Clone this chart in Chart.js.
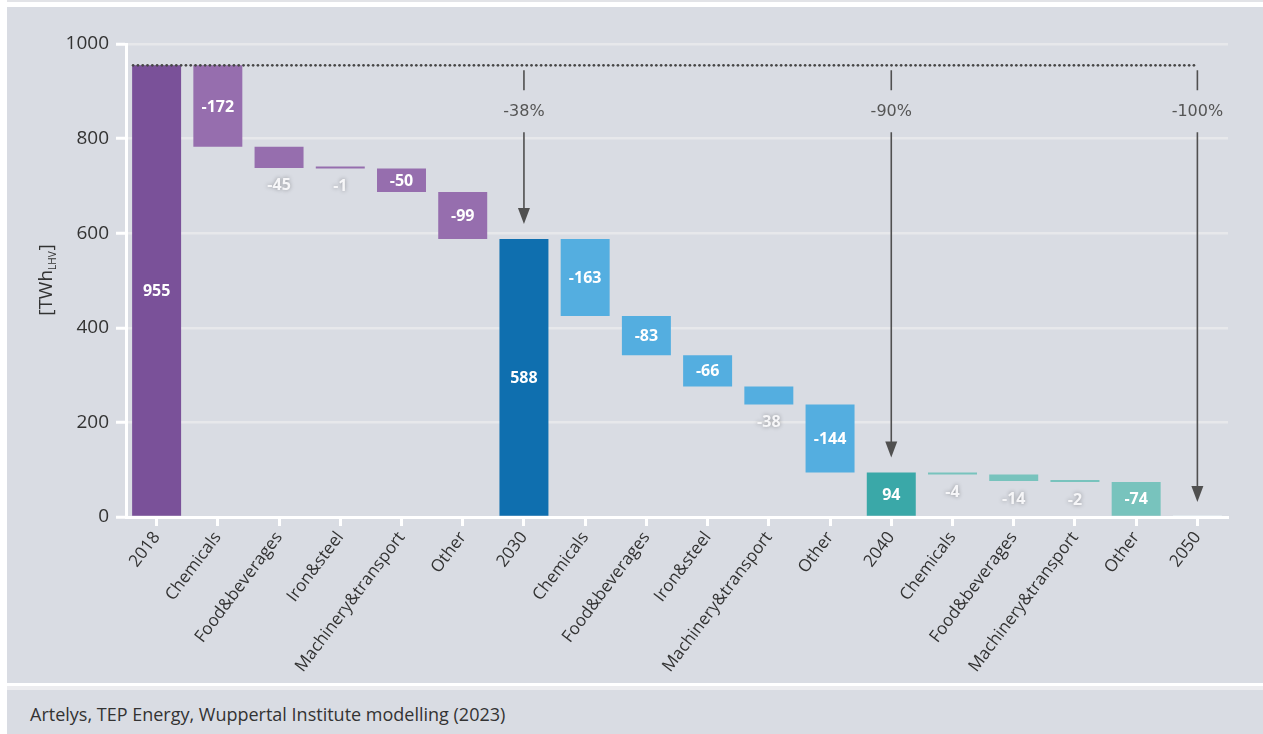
<!DOCTYPE html>
<html>
<head>
<meta charset="utf-8">
<title>Industry energy demand waterfall</title>
<script src="https://cdn.jsdelivr.net/npm/chart.js"></script>
<style>
  html, body { margin: 0; padding: 0; background: #fff; }
  body { width: 1263px; height: 734px; position: relative; overflow: hidden; }
  #topline { position: absolute; left: 7px; top: 0; width: 1256px; height: 2px; background: #e2e3e7; }
  #panel { position: absolute; left: 7px; top: 7px; width: 1256px; height: 676px; background: #d9dce3; }
  #sep { position: absolute; left: 7px; top: 686px; width: 1256px; height: 4px; background: #ececef; }
  #footer { position: absolute; left: 7px; top: 690px; width: 1256px; height: 44px; background: #d9dce3;
    font: 18px "Open Sans", sans-serif; color: #333; }
  #footer span { position: absolute; left: 23px; top: 12px; }
</style>
</head>
<body>
<div id="topline"></div>
<div id="panel"><canvas id="waterfall" width="1256" height="676"></canvas></div>
<div id="sep"></div>
<div id="footer"><span>Artelys, TEP Energy, Wuppertal Institute modelling (2023)</span></div>
<script>
const categories = [
  "2018", "Chemicals", "Food&beverages", "Iron&steel", "Machinery&transport", "Other",
  "2030", "Chemicals", "Food&beverages", "Iron&steel", "Machinery&transport", "Other",
  "2040", "Chemicals", "Food&beverages", "Machinery&transport", "Other",
  "2050",
];
const values = [955, -172, -45, -1, -50, -99, 588, -163, -83, -66, -38, -144, 94, -4, -14, -2, -74, 0];
const isTotal = [
  true, false, false, false, false, false,
  true, false, false, false, false, false,
  true, false, false, false, false,
  true,
];
const yMin = 0;
const yMax = 1000;
const yStep = 200;

// one colour pair per period, the last total is just a pale line
const groupColors = [
  { total: "#7a5199", change: "#966eae" },
  { total: "#0f6faf", change: "#54aee0" },
  { total: "#3aa8a8", change: "#78c3bd" },
  { total: "#e4edf0", change: "#e4edf0" },
];

let running = 0;
const ranges = values.map((v, i) => {
  if (isTotal[i]) {
    running = v;
    return [0, v];
  }
  const start = running;
  running += v;
  return [running, start];
});

let group = -1;
const barColors = values.map((v, i) => {
  if (isTotal[i]) group++;
  return isTotal[i] ? groupColors[group].total : groupColors[group].change;
});

const barLabels = {
  id: "barLabels",
  afterDatasetsDraw(chart) {
    const { ctx } = chart;
    const meta = chart.getDatasetMeta(0);
    ctx.save();
    ctx.textAlign = "center";
    ctx.textBaseline = "middle";
    ctx.font = "bold 16px 'Open Sans', sans-serif";
    meta.data.forEach((bar, i) => {
      if (values[i] === 0) return;
      const top = Math.min(bar.y, bar.base);
      const bottom = Math.max(bar.y, bar.base);
      const text = String(values[i]);
      if (bottom - top >= 22) {
        ctx.fillStyle = "#fff";
        ctx.shadowColor = "transparent";
        ctx.fillText(text, bar.x, (top + bottom) / 2 + 1);
      } else {
        ctx.fillStyle = "#f6f6f8";
        ctx.shadowColor = "rgba(0,0,0,0.35)";
        ctx.shadowBlur = 4;
        ctx.fillText(text, bar.x, bottom + 18);
      }
    });
    ctx.restore();
  },
};

const milestones = {
  id: "milestones",
  afterDatasetsDraw(chart) {
    const { ctx, scales: { x, y } } = chart;
    const meta = chart.getDatasetMeta(0);
    const baseY = y.getPixelForValue(values[0]);
    const first = meta.data[0];
    const startX = first.x - first.width / 2;
    const endX = x.getPixelForValue(categories.length - 1);

    ctx.save();
    ctx.fillStyle = "#474747";
    for (let px = startX + 1; px <= endX + 1; px += 4.8) {
      ctx.beginPath();
      ctx.arc(px, baseY, 1.35, 0, Math.PI * 2);
      ctx.fill();
    }
    ctx.strokeStyle = "#505050";
    ctx.lineWidth = 1.6;

    values.forEach((v, i) => {
      if (!isTotal[i] || i === 0) return;
      const cx = x.getPixelForValue(i);
      const tipY = y.getPixelForValue(v) - 15;
      ctx.beginPath();
      ctx.moveTo(cx, baseY + 5);
      ctx.lineTo(cx, baseY + 25);
      ctx.moveTo(cx, baseY + 67);
      ctx.lineTo(cx, tipY - 14);
      ctx.stroke();
      ctx.fillStyle = "#505050";
      ctx.beginPath();
      ctx.moveTo(cx - 6, tipY - 16);
      ctx.lineTo(cx + 6, tipY - 16);
      ctx.lineTo(cx, tipY);
      ctx.closePath();
      ctx.fill();

      const pct = Math.round(((v - values[0]) / values[0]) * 100);
      ctx.font = "16px 'DejaVu Sans', sans-serif";
      ctx.textAlign = "center";
      ctx.textBaseline = "middle";
      ctx.fillStyle = "#555";
      ctx.fillText(pct + "%", cx, baseY + 47);
    });
    ctx.restore();
  },
};

const axisTitle = {
  id: "axisTitle",
  afterDraw(chart) {
    const { ctx, chartArea } = chart;
    const big = "19px 'Open Sans', sans-serif";
    const small = "10px 'Open Sans', sans-serif";
    ctx.save();
    ctx.translate(40, (chartArea.top + chartArea.bottom) / 2);
    ctx.rotate(-Math.PI / 2);
    ctx.fillStyle = "#333";
    ctx.textBaseline = "middle";
    ctx.textAlign = "left";
    ctx.font = big;
    const w1 = ctx.measureText("[TWh").width;
    const w3 = ctx.measureText("]").width;
    ctx.font = small;
    const w2 = ctx.measureText("LHV").width;
    let px = -(w1 + w2 + w3) / 2;
    ctx.font = big;
    ctx.fillText("[TWh", px, 0);
    px += w1;
    ctx.font = small;
    ctx.fillText("LHV", px, 6);
    px += w2 + 1;
    ctx.font = big;
    ctx.fillText("]", px, 0);
    ctx.restore();
  },
};

new Chart(document.getElementById("waterfall"), {
  type: "bar",
  data: {
    labels: categories,
    datasets: [{
      data: ranges,
      backgroundColor: barColors,
      borderWidth: 0,
      barPercentage: 0.8,
      categoryPercentage: 1,
      minBarLength: 2,
    }],
  },
  options: {
    responsive: false,
    animation: false,
    layout: { padding: { top: 37, right: 35, left: 0, bottom: 0 } },
    plugins: {
      legend: { display: false },
      tooltip: { enabled: false },
    },
    scales: {
      x: {
        grid: {
          display: true,
          drawOnChartArea: false,
          offset: false,
          tickLength: 9,
          tickColor: "#fff",
          tickWidth: 3,
        },
        border: { color: "#fff", width: 3 },
        ticks: {
          color: "#333",
          font: { family: "'Open Sans', sans-serif", size: 17 },
          minRotation: 53,
          maxRotation: 53,
          autoSkip: false,
          padding: 2,
        },
        afterFit: (s) => { s.height = 166; },
      },
      y: {
        min: yMin,
        max: yMax,
        ticks: {
          stepSize: yStep,
          color: "#333",
          font: { family: "'Open Sans', sans-serif", size: 19 },
          padding: 7,
          callback: (v) => String(v),
        },
        grid: {
          color: (c) => (c.tick && c.tick.value === 0 ? "rgba(0,0,0,0)" : "#e7e8eb"),
          lineWidth: 2.5,
          tickLength: 10,
          tickColor: "#fff",
          tickWidth: 3,
        },
        border: { color: "#fff", width: 3 },
        afterFit: (s) => { s.width = 119; },
      },
    },
  },
  plugins: [barLabels, milestones, axisTitle],
});
</script>
</body>
</html>
